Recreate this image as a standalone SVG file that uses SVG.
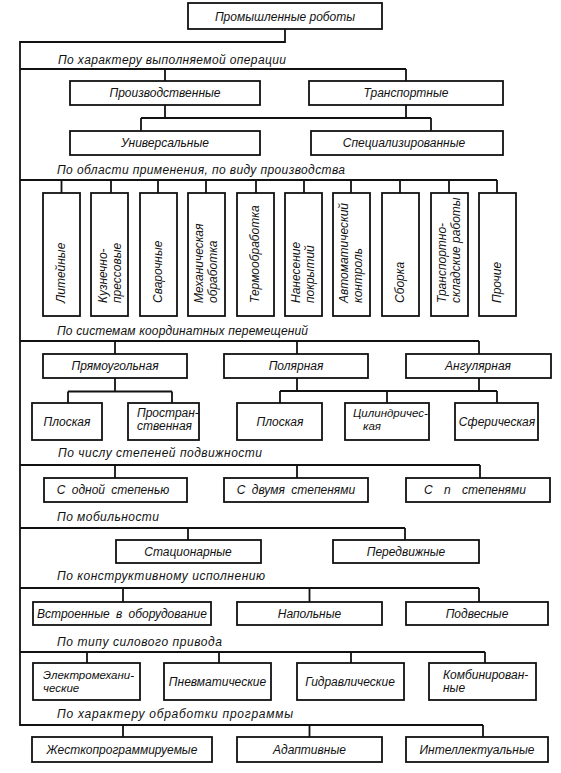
<svg xmlns="http://www.w3.org/2000/svg" width="561" height="773" viewBox="0 0 561 773">
<style>
.box{fill:#fff;stroke:#111;stroke-width:1.8}
.conn{fill:none;stroke:#111;stroke-width:1.8}
text{font-family:"Liberation Sans",Arial,sans-serif;font-style:italic;font-size:12px;fill:#111}
.c{text-anchor:middle}
.v{font-size:12px}
.s{font-size:11.5px}
</style>
<rect x="0" y="0" width="561" height="773" fill="#fff"/>
<g id="connectors" class="conn">
<path d="M285,29 V42 H20 V725 H483"/>
<path d="M20,69 H406 M165,69 V81 M406,69 V81"/>
<path d="M165,105 V118 M406,105 V118 M141,118 H431 M141,118 V131 M431,118 V131"/>
<path d="M20,180 H497 M61.5,180 V193 M111,180 V193 M158,180 V193 M206,180 V193 M256,180 V193 M304,180 V193 M351,180 V193 M400,180 V193 M449,180 V193 M497,180 V193"/>
<path d="M20,341 H479 M115,341 V354 M297,341 V354 M479,341 V354"/>
<path d="M115,378 V391.5 M68,391.5 H172 M68,391.5 V403 M172,391.5 V403"/>
<path d="M297,378 V391 M479,378 V391 M280,391 H497 M280,391 V403 M387,391 V403 M497,391 V403"/>
<path d="M20,465 H480 M115,465 V478 M297,465 V478 M480,465 V478"/>
<path d="M20,528 H405 M188,528 V540 M405,528 V540"/>
<path d="M20,588 H479 M123,588 V602 M309.5,588 V602 M479,588 V602"/>
<path d="M20,652 H485 M87,652 V663 M219,652 V663 M351,652 V663 M485,652 V663"/>
<path d="M123,725 V737 M309.5,725 V737 M483,725 V737"/>
</g>
<g id="labels">
<text x="58" y="64" textLength="228" lengthAdjust="spacing">По характеру выполняемой операции</text>
<text x="57" y="174" textLength="288" lengthAdjust="spacing">По области применения, по виду производства</text>
<text x="57" y="335" textLength="251" lengthAdjust="spacing">По системам координатных перемещений</text>
<text x="58" y="457" textLength="204" lengthAdjust="spacing">По числу степеней подвижности</text>
<text x="57" y="521" textLength="102" lengthAdjust="spacing">По мобильности</text>
<text x="57" y="580" textLength="208" lengthAdjust="spacing">По конструктивному исполнению</text>
<text x="57" y="646" textLength="165" lengthAdjust="spacing">По типу силового привода</text>
<text x="57" y="718" textLength="236" lengthAdjust="spacing">По характеру обработки программы</text>
</g>
<g id="n-root"><rect class="box" x="188" y="3" width="194" height="26"/><text class="c" x="285" y="21">Промышленные роботы</text></g>
<g id="n-proizv"><rect class="box" x="70" y="81" width="190" height="24"/><text class="c" x="165" y="97">Производственные</text></g>
<g id="n-transp"><rect class="box" x="309" y="81" width="194" height="24"/><text class="c" x="406" y="97">Транспортные</text></g>
<g id="n-univ"><rect class="box" x="70" y="131" width="190" height="24"/><text class="c" x="165" y="147">Универсальные</text></g>
<g id="n-spec"><rect class="box" x="311" y="131" width="192" height="24"/><text class="c" x="404" y="147">Специализированные</text></g>

<g id="n-lit"><rect class="box" x="43" y="193" width="37" height="123"/><text class="v" transform="translate(64.5,303) rotate(-90)">Литейные</text></g>
<g id="n-kuzn"><rect class="box" x="91" y="193" width="37" height="123"/><text class="v" transform="translate(106.5,303) rotate(-90)">Кузнечно-</text><text class="v" transform="translate(120.5,303) rotate(-90)">прессовые</text></g>
<g id="n-svar"><rect class="box" x="140" y="193" width="37" height="123"/><text class="v" transform="translate(162,303) rotate(-90)">Сварочные</text></g>
<g id="n-meh"><rect class="box" x="188" y="193" width="37" height="123"/><text class="v" transform="translate(203,303) rotate(-90)">Механическая</text><text class="v" transform="translate(217,303) rotate(-90)">обработка</text></g>
<g id="n-term"><rect class="box" x="237" y="193" width="37" height="123"/><text class="v" transform="translate(259,303) rotate(-90)">Термообработка</text></g>
<g id="n-nanes"><rect class="box" x="285" y="193" width="37" height="123"/><text class="v" transform="translate(300,303) rotate(-90)">Нанесение</text><text class="v" transform="translate(314,303) rotate(-90)">покрытий</text></g>
<g id="n-avt"><rect class="box" x="333" y="193" width="37" height="123"/><text class="v" transform="translate(348,303) rotate(-90)">Автоматический</text><text class="v" transform="translate(362,303) rotate(-90)">контроль</text></g>
<g id="n-sbor"><rect class="box" x="382" y="193" width="37" height="123"/><text class="v" transform="translate(404,303) rotate(-90)">Сборка</text></g>
<g id="n-trsk"><rect class="box" x="431" y="193" width="37" height="123"/><text class="v" transform="translate(446,303) rotate(-90)">Транспортно-</text><text class="v" transform="translate(460,303) rotate(-90)">складские работы</text></g>
<g id="n-proch"><rect class="box" x="479" y="193" width="37" height="123"/><text class="v" transform="translate(501,303) rotate(-90)">Прочие</text></g>

<g id="n-pryam"><rect class="box" x="43" y="354" width="144" height="24"/><text class="c" x="115" y="370">Прямоугольная</text></g>
<g id="n-polyar"><rect class="box" x="224" y="354" width="144" height="24"/><text class="c" x="296" y="370">Полярная</text></g>
<g id="n-angul"><rect class="box" x="406" y="354" width="145" height="24"/><text class="c" x="478" y="370">Ангулярная</text></g>
<g id="n-plosk1"><rect class="box" x="32" y="403" width="70" height="37"/><text class="c" x="67" y="426">Плоская</text></g>
<g id="n-prostr"><rect class="box" x="128" y="403" width="71" height="37"/><text x="137" y="417">Простран-</text><text x="137" y="430">ственная</text></g>
<g id="n-plosk2"><rect class="box" x="237" y="403" width="85" height="37"/><text class="c" x="280" y="426">Плоская</text></g>
<g id="n-cil"><rect class="box" x="345" y="403" width="84" height="37"/><text class="s" x="353" y="417">Цилиндричес-</text><text class="s" x="363" y="430">кая</text></g>
<g id="n-sfer"><rect class="box" x="455" y="403" width="83" height="37"/><text class="c" x="497" y="426">Сферическая</text></g>

<g id="n-odna"><rect class="box" x="44" y="478" width="143" height="24"/><text class="c" x="113" y="494" style="word-spacing:3px">С одной степенью</text></g>
<g id="n-dve"><rect class="box" x="224" y="478" width="144" height="24"/><text class="c" x="296" y="494" style="word-spacing:3px">С двумя степенями</text></g>
<g id="n-n"><rect class="box" x="406" y="478" width="144" height="24"/><text class="c" x="475" y="494" style="word-spacing:8px">С n степенями</text></g>

<g id="n-stac"><rect class="box" x="116" y="540" width="145" height="23"/><text class="c" x="188" y="556">Стационарные</text></g>
<g id="n-pered"><rect class="box" x="333" y="540" width="146" height="23"/><text class="c" x="406" y="556">Передвижные</text></g>

<g id="n-vstr"><rect class="box" x="33" y="602" width="178" height="23"/><text class="c" x="122" y="618" style="word-spacing:3px">Встроенные в оборудование</text></g>
<g id="n-napol"><rect class="box" x="237" y="602" width="145" height="23"/><text class="c" x="309.5" y="618">Напольные</text></g>
<g id="n-podv"><rect class="box" x="406" y="602" width="142" height="23"/><text class="c" x="477" y="618">Подвесные</text></g>

<g id="n-elmeh"><rect class="box" x="33" y="663" width="107" height="37"/><text class="s" x="43" y="679">Электромехани-</text><text class="s" x="43" y="692">ческие</text></g>
<g id="n-pnevm"><rect class="box" x="164" y="663" width="107" height="37"/><text class="c" x="217.5" y="686">Пневматические</text></g>
<g id="n-gidr"><rect class="box" x="297" y="663" width="107" height="37"/><text class="c" x="350" y="686">Гидравлические</text></g>
<g id="n-komb"><rect class="box" x="429" y="663" width="107" height="37"/><text x="443" y="679">Комбинирован-</text><text x="443" y="692">ные</text></g>

<g id="n-zhest"><rect class="box" x="32" y="737" width="180" height="25"/><text class="c" x="122" y="754">Жесткопрограммируемые</text></g>
<g id="n-adapt"><rect class="box" x="237" y="737" width="145" height="25"/><text class="c" x="309.5" y="754">Адаптивные</text></g>
<g id="n-intel"><rect class="box" x="406" y="737" width="142" height="25"/><text class="c" x="477" y="754">Интеллектуальные</text></g>
</svg>
